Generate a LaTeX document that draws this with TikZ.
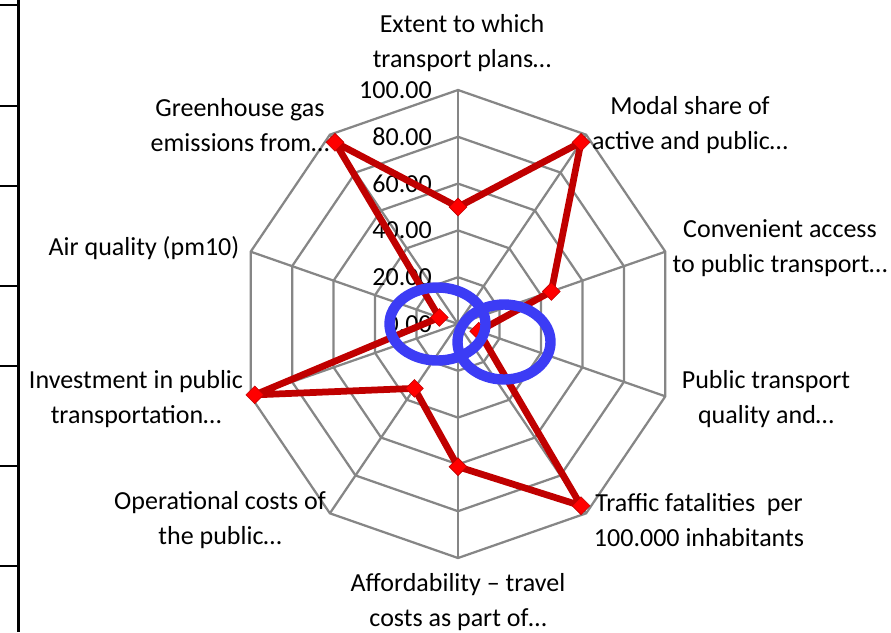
\documentclass[tikz,border=0pt]{standalone}
\usepackage{fontspec}
\setmainfont{Carlito}
\usetikzlibrary{shapes.geometric}
\definecolor{webgray}{RGB}{134,134,134}
\definecolor{seriesred}{RGB}{192,0,0}
\definecolor{markred}{RGB}{255,0,0}
\definecolor{ringblue}{RGB}{60,60,245}

\begin{document}
\begin{tikzpicture}[x=0.025cm, y=-0.025cm,
		% point on axis i (0 = top, clockwise) at value v
		declare function={px(\i,\v)=458+2.18*\v*cos(90-36*\i); py(\i,\v)=324-2.34*\v*sin(90-36*\i);},
		webline/.style={draw=webgray, line width=1.6pt},
		series/.style={draw=seriesred, line width=4.8pt, line join=round},
		ptmark/.style={diamond, fill=markred, draw=seriesred, line width=0.4pt, inner sep=0pt, minimum size=0.45cm},
		ringline/.style={draw=ringblue, line width=7.4pt},
		frame/.style={draw=black, line width=2.1pt},
		lbl/.style={align=center, inner sep=0pt, font=\fontsize{18.5}{24.9}\selectfont}]
	\useasboundingbox (0,0) rectangle (891,632);
	% table border at the left
	\draw[frame] (18.3,0) -- (18.3,632);
	\foreach \y in {5,106,186,286,366,466,566}
		\draw[frame] (0,\y) -- (18.3,\y);
	% web
	\coordinate (O) at (458,324);
	\foreach \i in {0,...,9} {
		\coordinate (ax\i) at ({px(\i,100)},{py(\i,100)});
		\draw[webline] (O) -- (ax\i);
	}
	\foreach \v in {20,40,...,100}
		\draw[webline] ({px(0,\v)},{py(0,\v)}) \foreach \i in {1,...,9}{ -- ({px(\i,\v)},{py(\i,\v)})} -- cycle;
	\foreach \v in {0,20,...,100}
		\node[lbl, anchor=east] (t\v) at (432,{324-2.34*\v}) {\v.00};
	% categories
	\node[lbl] (extent) at (462,43) {Extent to which\\transport plans…};
	\node[lbl] (modal) at (690,125) {Modal share of\\active and public…};
	\node[lbl] (access) at (780,248.5) {Convenient access\\to public transport…};
	\node[lbl] (quality) at (766,399.5) {Public transport\\quality and…};
	\node[lbl] (traffic) at (699,520) {Traffic fatalities\ \ per\\100.000 inhabitants};
	\node[lbl] (afford) at (458,602.5) {Affordability – travel\\costs as part of…};
	\node[lbl] (opcost) at (220,520) {Operational costs of\\the public…};
	\node[lbl] (invest) at (136,399.5) {Investment in public\\transportation…};
	\node[lbl] (air) at (144,248.5) {Air quality (pm10)};
	\node[lbl] (ghg) at (240,125) {Greenhouse gas\\emissions from…};
	% series
	\foreach \i/\v in {0/50,1/96,2/45,3/10,4/96,5/61,6/34,7/98,8/9,9/96}
		\coordinate (d\i) at ({px(\i,\v)},{py(\i,\v)});
	\draw[series] (d0) -- (d1) -- (d2) -- (d3) -- (d4) -- (d5) -- (d6) -- (d7) -- (d8) -- (d9) -- cycle;
	\foreach \i in {0,...,9}
		\node[ptmark] (m\i) at (d\i) {};
	% marked rings
	\draw[ringline] (437.5,324) ellipse [x radius=48, y radius=36.5];
	\draw[ringline] (504,342) ellipse [x radius=46.5, y radius=37.5];
\end{tikzpicture}
\end{document}
